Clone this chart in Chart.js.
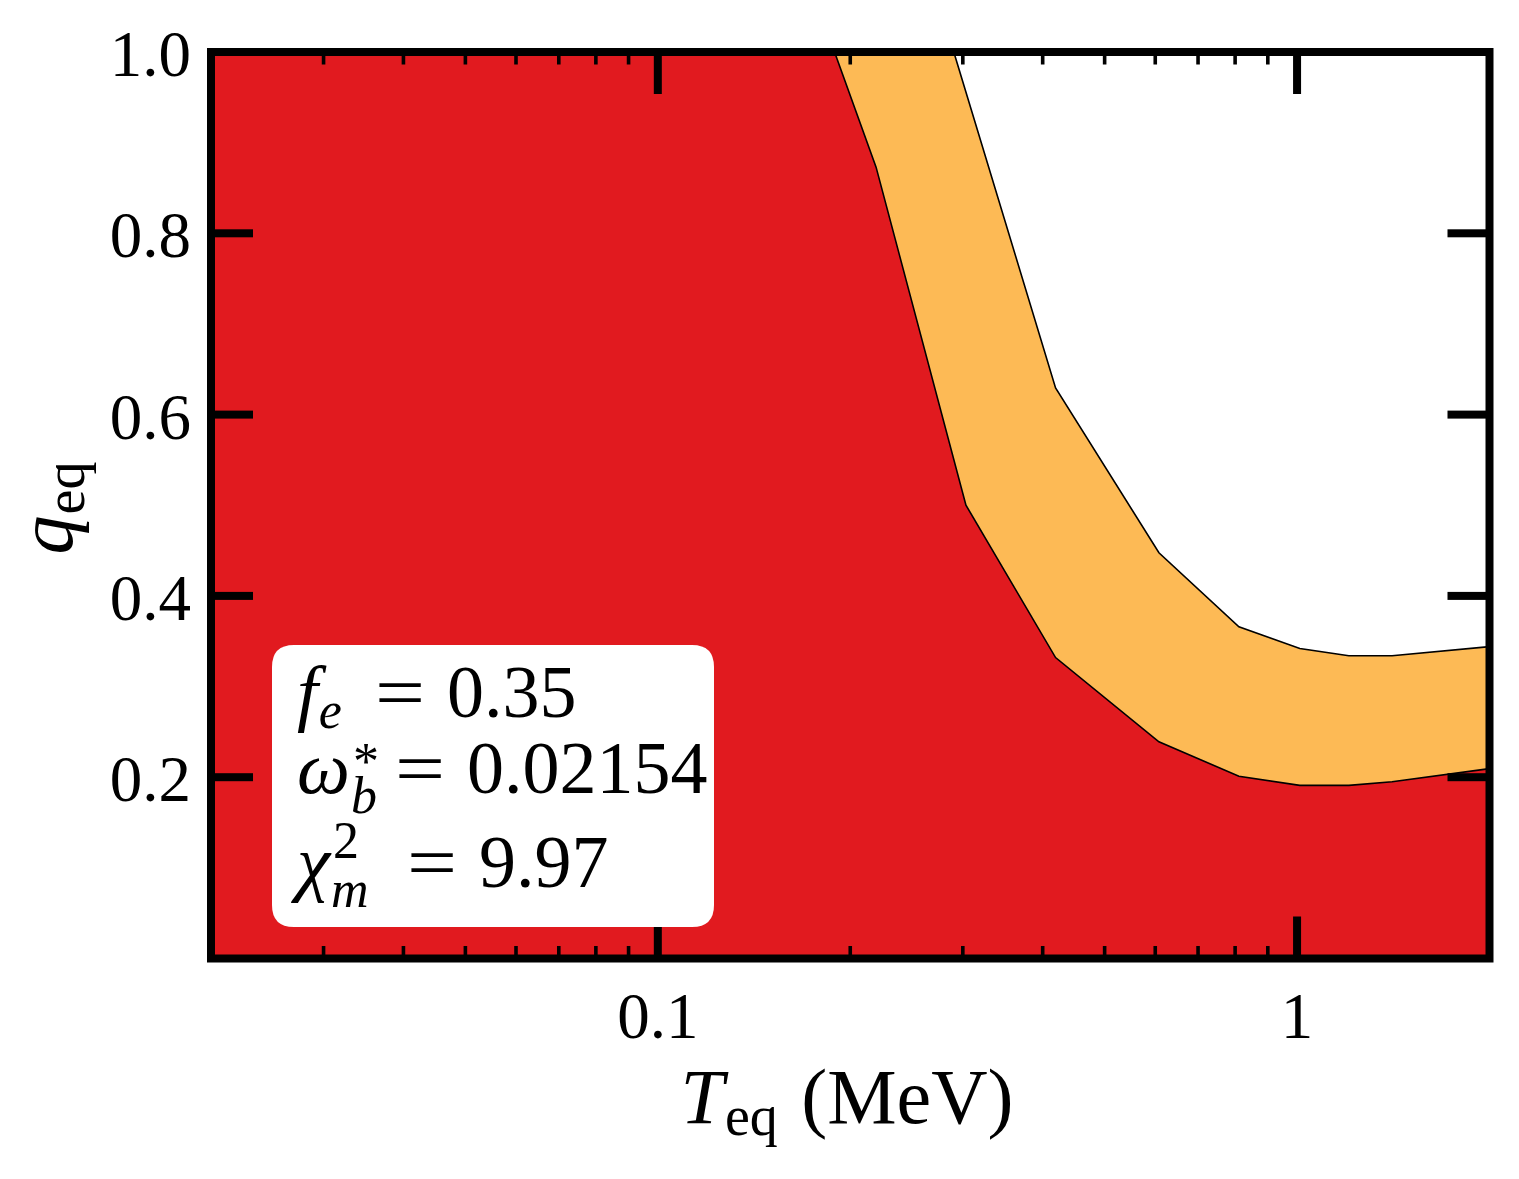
<!DOCTYPE html>
<html>
<head>
<meta charset="utf-8">
<script src="https://cdn.jsdelivr.net/npm/chart.js@4.4.1/dist/chart.umd.min.js"></script>
<style>
  html, body { margin: 0; padding: 0; background: #fff; }
  #wrap { width: 1519px; height: 1179px; position: relative; }
</style>
</head>
<body>
<div id="wrap"><canvas id="chart"></canvas></div>
<script>
// Lower edge of the orange band (red region lies below / left of it)
const lowerT = [0.02, 0.189, 0.2195, 0.3034, 0.419, 0.608, 0.811, 1.01, 1.205, 1.408, 2.0];
const lowerQ = [1.0, 1.0, 0.873, 0.500, 0.332, 0.239, 0.201, 0.191, 0.191, 0.195, 0.2095];

// Upper edge of the orange band
const upperT = [0.02, 0.2904, 0.419, 0.608, 0.811, 1.01, 1.205, 1.408, 2.0];
const upperQ = [1.0, 1.0, 0.6295, 0.4476, 0.366, 0.342, 0.334, 0.334, 0.344];

// Axis ticks
const xMajor = [0.1, 1];
const xMajorLabels = ['0.1', '1'];
const xMinor = [0.02, 0.03, 0.04, 0.05, 0.06, 0.07, 0.08, 0.09,
                0.2, 0.3, 0.4, 0.5, 0.6, 0.7, 0.8, 0.9, 2];
const yMajor = [0.2, 0.4, 0.6, 0.8, 1.0];
const yLabels = ['0.2', '0.4', '0.6', '0.8', '1.0'];

// Parameter box text
const infoRows = [
    { sym: 'f', sub: 'e', sup: '', val: '0.35' },
    { sym: '\u03c9', sub: 'b', sup: '*', val: '0.02154' },
    { sym: '\u03c7', sub: 'm', sup: '2', val: '9.97' }
];

const RED = '#e11a1f';
const ORANGE = '#fdba55';
const SERIF = '"Liberation Serif", "Times New Roman", serif';

function toPoints(xs, ys) {
    return xs.map((x, i) => ({ x: x, y: ys[i] }));
}

function roundRect(ctx, x, y, w, h, r) {
    ctx.beginPath();
    ctx.moveTo(x + r, y);
    ctx.lineTo(x + w - r, y);
    ctx.quadraticCurveTo(x + w, y, x + w, y + r);
    ctx.lineTo(x + w, y + h - r);
    ctx.quadraticCurveTo(x + w, y + h, x + w - r, y + h);
    ctx.lineTo(x + r, y + h);
    ctx.quadraticCurveTo(x, y + h, x, y + h - r);
    ctx.lineTo(x, y + r);
    ctx.quadraticCurveTo(x, y, x + r, y);
    ctx.closePath();
}

// italic symbol followed by an upright, lowered subscript; returns width
function drawSubLabel(ctx, main, sub, x, y, size) {
    ctx.font = 'italic ' + size + 'px ' + SERIF;
    ctx.fillText(main, x, y);
    const w1 = ctx.measureText(main).width;
    ctx.font = Math.round(size * 0.72) + 'px ' + SERIF;
    ctx.fillText(sub, x + w1 + 1, y + size * 0.16);
    return w1 + 1 + ctx.measureText(sub).width;
}

function subLabelWidth(ctx, main, sub, size) {
    ctx.font = 'italic ' + size + 'px ' + SERIF;
    const w1 = ctx.measureText(main).width;
    ctx.font = Math.round(size * 0.72) + 'px ' + SERIF;
    return w1 + 1 + ctx.measureText(sub).width;
}

const framePlugin = {
    id: 'frame',
    afterDraw(chart) {
        const ctx = chart.ctx;
        const area = chart.chartArea;
        const xs = chart.scales.x;
        const ys = chart.scales.y;
        ctx.save();
        ctx.fillStyle = '#000';

        // inward ticks on all four sides
        xMajor.forEach(v => {
            const px = xs.getPixelForValue(v);
            ctx.fillRect(px - 4, area.bottom - 42, 8, 42);
            ctx.fillRect(px - 4, area.top, 8, 42);
        });
        xMinor.forEach(v => {
            const px = xs.getPixelForValue(v);
            ctx.fillRect(px - 1.8, area.bottom - 12.5, 3.6, 12.5);
            ctx.fillRect(px - 1.8, area.top, 3.6, 12.5);
        });
        yMajor.forEach(v => {
            const py = ys.getPixelForValue(v);
            ctx.fillRect(area.left, py - 4, 42, 8);
            ctx.fillRect(area.right - 42, py - 4, 42, 8);
        });

        // frame
        ctx.strokeStyle = '#000';
        ctx.lineWidth = 8;
        ctx.lineJoin = 'miter';
        ctx.strokeRect(area.left, area.top, area.right - area.left, area.bottom - area.top);

        // tick labels
        ctx.font = '65px ' + SERIF;
        ctx.textBaseline = 'alphabetic';
        ctx.textAlign = 'center';
        xMajor.forEach((v, i) => {
            ctx.fillText(xMajorLabels[i], xs.getPixelForValue(v), 1038);
        });
        ctx.textAlign = 'right';
        yMajor.forEach((v, i) => {
            ctx.fillText(yLabels[i], 191, ys.getPixelForValue(v) + 24);
        });

        // axis titles
        ctx.textAlign = 'left';
        const xSize = 78;
        const xTitleW = subLabelWidth(ctx, 'T', 'eq', xSize);
        ctx.font = xSize + 'px ' + SERIF;
        const unitW = ctx.measureText(' (MeV)').width;
        const tx = 845 - (xTitleW + unitW) / 2;
        const w = drawSubLabel(ctx, 'T', 'eq', tx, 1123, xSize);
        ctx.font = xSize + 'px ' + SERIF;
        ctx.fillText(' (MeV)', tx + w + 4, 1123);

        ctx.save();
        ctx.translate(72, 508);
        ctx.rotate(-Math.PI / 2);
        const yTitleW = subLabelWidth(ctx, 'q', 'eq', xSize);
        drawSubLabel(ctx, 'q', 'eq', -yTitleW / 2, 0, xSize);
        ctx.restore();

        // parameter box
        ctx.fillStyle = '#fff';
        roundRect(ctx, 272, 645, 442, 282, 22);
        ctx.fill();
        ctx.fillStyle = '#000';
        const baselines = [717, 793, 887];
        const subDy = [11, 20, 20];
        const supDy = [0, 14, 29];
        const eqMin = [377, 395, 409];
        infoRows.forEach((row, i) => {
            const y = baselines[i];
            ctx.font = 'italic 75px ' + SERIF;
            ctx.fillText(row.sym, 297, y);
            const cx = 297 + ctx.measureText(row.sym).width;
            ctx.font = 'italic 52px ' + SERIF;
            ctx.fillText(row.sub, cx + 1, y + subDy[i]);
            let end = cx + 1 + ctx.measureText(row.sub).width;
            if (row.sup) {
                ctx.font = '52px ' + SERIF;
                ctx.fillText(row.sup, cx + 3, y - supDy[i]);
                end = Math.max(end, cx + 3 + ctx.measureText(row.sup).width);
            }
            const eqX = Math.max(eqMin[i], end + 18);
            ctx.font = '74px ' + SERIF;
            ctx.save();
            ctx.translate(eqX - 2, y);
            ctx.scale(1.2, 1);
            ctx.fillText('=', 0, 0);
            ctx.restore();
            ctx.fillText(row.val, eqX + 70, y);
        });

        ctx.restore();
    }
};

const ctx = document.getElementById('chart').getContext('2d');
new Chart(ctx, {
    type: 'line',
    data: {
        datasets: [
            {
                label: 'lower',
                data: toPoints(lowerT, lowerQ),
                backgroundColor: RED,
                borderColor: '#000',
                borderWidth: 1.6,
                fill: 'origin',
                pointRadius: 0,
                tension: 0,
                order: 0
            },
            {
                label: 'upper',
                data: toPoints(upperT, upperQ),
                backgroundColor: ORANGE,
                borderColor: '#000',
                borderWidth: 1.6,
                fill: 'origin',
                pointRadius: 0,
                tension: 0,
                order: 1
            }
        ]
    },
    options: {
        responsive: true,
        maintainAspectRatio: false,
        animation: false,
        events: [],
        layout: { padding: { left: 211, right: 29.5, top: 52, bottom: 220.5 } },
        plugins: {
            legend: { display: false },
            tooltip: { enabled: false }
        },
        scales: {
            x: { type: 'logarithmic', min: 0.02, max: 2, display: false },
            y: { type: 'linear', min: 0, max: 1, display: false }
        }
    },
    plugins: [framePlugin]
});
</script>
</body>
</html>
